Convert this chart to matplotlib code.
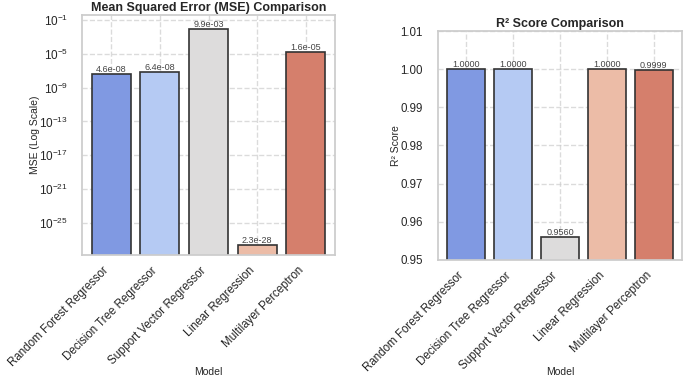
import matplotlib
matplotlib.use("Agg")
import matplotlib.pyplot as plt
import seaborn as sns
import numpy as np

# -------- DATA --------
models = ["Random Forest Regressor", "Decision Tree Regressor", "Support Vector Regressor",
          "Linear Regression", "Multilayer Perceptron"]
mse = [4.6e-08, 6.4e-08, 9.9e-03, 2.3e-28, 1.6e-05]
r2 = [1.0000, 1.0000, 0.9560, 1.0000, 0.9999]
# ----------------------

sns.set_theme(style="whitegrid")
plt.rcParams["font.family"] = ["Liberation Sans", "DejaVu Sans"]
# seaborn barplot look: coolwarm, desaturated
colors = [sns.desaturate(c, 0.75) for c in sns.color_palette("coolwarm", len(models))]

W, H = 685, 381
fig = plt.figure(figsize=(W / 100, H / 100), dpi=100)


def box(x0, y0, x1, y1):
    return [x0 / W, 1 - y1 / H, (x1 - x0) / W, (y1 - y0) / H]


ax1 = fig.add_axes(box(82, 15, 335, 255))
ax2 = fig.add_axes(box(438, 31, 682, 260))

x = np.arange(len(models))

# 1. MSE (log)
bars = ax1.bar(x, mse, color=colors, edgecolor="#333333", linewidth=1.2, width=0.8)
ax1.set_yscale("log")
ax1.set_ylim(10 ** -28.8, 10 ** -0.4)
ax1.set_yticks([10.0 ** e for e in range(-25, 0, 4)])
ax1.minorticks_off()
for b, v in zip(bars, mse):
    ax1.text(b.get_x() + b.get_width() / 2, v, f"{v:.1e}", ha="center", va="bottom",
             fontsize=6.5, color="#444444")
ax1.set_title("Mean Squared Error (MSE) Comparison", fontsize=9, fontweight="bold", pad=3)
ax1.set_ylabel("MSE (Log Scale)", fontsize=7.5)
ax1.set_xlabel("Model", fontsize=7.5, va="top")
ax1.yaxis.set_label_coords(-0.165, 0.5)

# 2. R2
bars = ax2.bar(x, r2, color=colors, edgecolor="#333333", linewidth=1.2, width=0.8)
ax2.set_ylim(0.95, 1.01)
for b, v in zip(bars, r2):
    ax2.text(b.get_x() + b.get_width() / 2, v, f"{v:.4f}", ha="center", va="bottom",
             fontsize=6.5, color="#444444")
ax2.set_title("R² Score Comparison", fontsize=9, fontweight="bold", pad=3)
ax2.set_ylabel("R² Score", fontsize=7.5)
ax2.set_xlabel("Model", fontsize=7.5, va="top")
ax2.yaxis.set_label_coords(-0.150, 0.5)

for ax in (ax1, ax2):
    ax.set_xticks(x)
    ax.set_xticklabels(models, rotation=45, ha="right")
    ax.tick_params(axis="x", labelsize=8.3, pad=1)
    ax.tick_params(axis="y", labelsize=8.3, pad=5)
    ax.grid(True, linestyle="--", alpha=0.7)
    ax.set_axisbelow(True)
    ax.set_xlim(-0.6, len(models) - 0.4)
    ax.xaxis.set_label_coords(0.5, -0.467)
ax1.tick_params(axis="y", labelsize=8.5, pad=4)

fig.savefig("out.png", dpi=100)
